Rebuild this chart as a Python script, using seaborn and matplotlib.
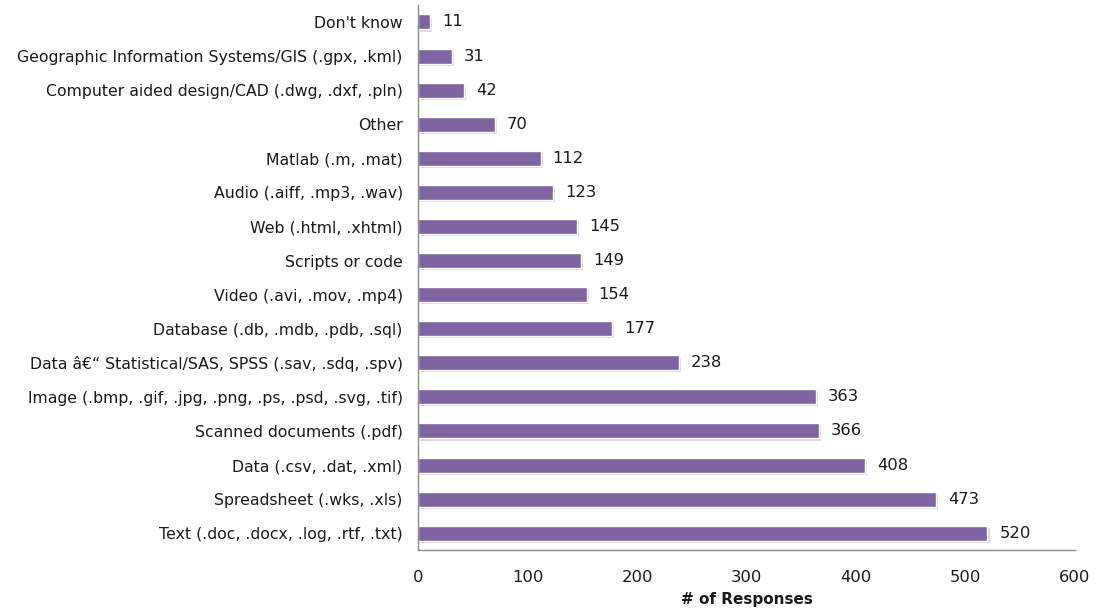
import pandas as pd
import matplotlib.pyplot as plt
import matplotlib.patheffects as pe
import seaborn as sns

# категории сверху вниз, как на картинке
categories = [
    "Don't know",
    "Geographic Information Systems/GIS (.gpx, .kml)",
    "Computer aided design/CAD (.dwg, .dxf, .pln)",
    "Other",
    "Matlab (.m, .mat)",
    "Audio (.aiff, .mp3, .wav)",
    "Web (.html, .xhtml)",
    "Scripts or code",
    "Video (.avi, .mov, .mp4)",
    "Database (.db, .mdb, .pdb, .sql)",
    "Data \u00e2\u20ac\u201c Statistical/SAS, SPSS (.sav, .sdq, .spv)",
    "Image (.bmp, .gif, .jpg, .png, .ps, .psd, .svg, .tif)",
    "Scanned documents (.pdf)",
    "Data (.csv, .dat, .xml)",
    "Spreadsheet (.wks, .xls)",
    "Text (.doc, .docx, .log, .rtf, .txt)",
]
responses = [11, 31, 42, 70, 112, 123, 145, 149, 154, 177, 238, 363, 366, 408, 473, 520]

df = pd.DataFrame({"category": categories, "responses": responses})

sns.set_theme(style="white")
plt.rcParams["font.family"] = ["DejaVu Sans"]

fig = plt.figure(figsize=(11.01, 6.10), dpi=100)
ax = fig.add_axes([0.3797, 0.098, 0.5967, 0.894])

sns.barplot(data=df, x="responses", y="category", orient="h", color="#8064A2",
            saturation=1, width=0.44, ax=ax)

# лёгкая тень у столбиков
for p in ax.patches:
    p.set_path_effects([pe.SimplePatchShadow(offset=(1.5, -1.5), shadow_rgbFace="#9a9a9a", alpha=0.35),
                        pe.Normal()])

for i, v in enumerate(responses):
    ax.text(v + 11, i, str(v), va="center", ha="left", fontsize=11.8, color="#1a1a1a")

ax.set_xlim(0, 600)
ax.set_ylim(15.5, -0.5)
ax.set_xticks(range(0, 601, 100))
ax.set_ylabel("")
ax.set_xlabel("# of Responses", fontsize=11, fontweight="bold", color="#1a1a1a", labelpad=5)
ax.tick_params(axis="both", length=0, colors="#1a1a1a")
ax.tick_params(axis="x", pad=14, labelsize=11.8)
ax.tick_params(axis="y", pad=11, labelsize=11.3)

sns.despine(ax=ax, top=True, right=True)
for s in ["left", "bottom"]:
    ax.spines[s].set_color("#8c8c8c")
    ax.spines[s].set_linewidth(1)

fig.savefig("out.png", dpi=100)
